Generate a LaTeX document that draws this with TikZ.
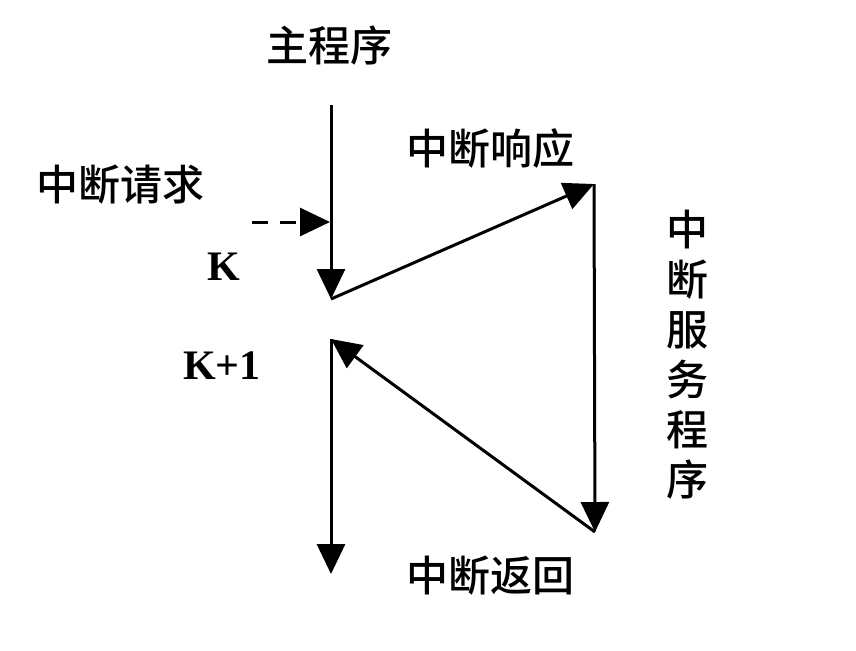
\documentclass[tikz,border=0pt]{standalone}
\usepackage{fontspec}
\newfontfamily\cjk{Noto Sans CJK SC Medium}
\setmainfont{Liberation Serif}
\usetikzlibrary{arrows.meta}

\begin{document}
\begin{tikzpicture}[x=0.5pt, y=-0.5pt, line width=1.5pt,
    lbl/.style={inner sep=0pt, font=\cjk\fontsize{21}{25}\selectfont},
    kl/.style={inner sep=0pt, font=\bfseries\fontsize{21}{24}\selectfont},
    flow/.style={-{Triangle[length=15pt,width=14pt]}}]
    \useasboundingbox (0,0) rectangle (856,650);

    % main program line
    \coordinate (top) at (331,105);
    \coordinate (k) at (331,299);
    \coordinate (k1) at (331,339);
    \coordinate (end) at (331,574);
    \coordinate (resp) at (594,184);
    \coordinate (ret) at (595,532);
    \coordinate (req) at (252,222);
    \coordinate (reqend) at (330,222);

    \node[lbl] (main) at (329,45) {主程序};
    \node[lbl] (irq) at (120,185) {中断请求};
    \node[kl] (kk) at (224,267) {K};
    \node[kl] (kk1) at (222,366) {K+1};
    \node[lbl] (ack) at (490,148) {中断响应};
    \node[lbl] (back) at (490,576) {中断返回};
    % vertical label
    \node[lbl, align=center] (isr) at (687,355) {中\\断\\服\\务\\程\\序};

    \draw[flow] (top) -- (k);
    \draw[flow, dash pattern=on 8pt off 6pt] (req) -- (reqend);
    \draw[flow] (k) -- (resp);
    \draw[flow] (resp) -- (ret);
    \draw[flow] (ret) -- (k1);
    \draw[flow] (k1) -- (end);
\end{tikzpicture}
\end{document}
